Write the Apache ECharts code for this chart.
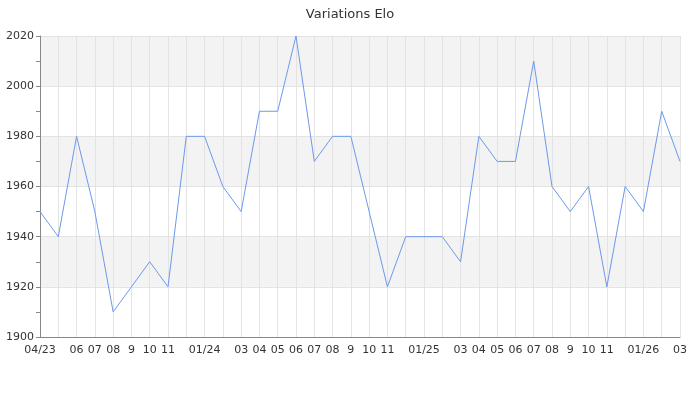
<!DOCTYPE html>
<html><head><meta charset="utf-8">
<script src="https://cdn.jsdelivr.net/npm/echarts@6/dist/echarts.min.js"></script>
<style>html,body{margin:0;padding:0;background:#fff}#c{width:700px;height:400px}</style>
</head><body><div id="c"></div>
<script>
const months = ['04/23','05','06','07','08','9','10','11','12','01/24','02','03',
  '04','05','06','07','08','9','10','11','12','01/25','02','03',
  '04','05','06','07','08','9','10','11','12','01/26','02','03'];
const hiddenLabels = [1, 8, 10, 20, 22, 32, 34];
const elo = [1950,1940,1980,1950,1910,1920,1930,1920,1980,1980,1960,1950,
  1990,1990,2020,1970,1980,1980,1950,1920,1940,1940,1940,1930,
  1980,1970,1970,2010,1960,1950,1960,1920,1960,1950,1990,1970];
const yTicks = {min:1900, max:2020, interval:20};

const chart = echarts.init(document.getElementById('c'), null, {renderer:'canvas'});
chart.setOption({
  animation:false,
  textStyle:{fontFamily:'DejaVu Sans'},
  title:{text:'Variations Elo', left:'center', top:3,
    textStyle:{fontSize:13, fontWeight:'normal', color:'#333', fontFamily:'DejaVu Sans'}},
  grid:{left:40, right:20, top:36, bottom:63, containLabel:false},
  xAxis:{type:'category', data:months, boundaryGap:false,
    axisLine:{lineStyle:{color:'#888'}},
    axisTick:{show:false},
    axisLabel:{color:'#333', fontSize:11, margin:8,
      interval:(i)=>hiddenLabels.indexOf(i)<0, hideOverlap:false},
    splitLine:{show:true, interval:0, lineStyle:{color:'#e3e3e3'}}},
  yAxis:{type:'value', min:yTicks.min, max:yTicks.max, interval:yTicks.interval,
    axisLine:{show:true, lineStyle:{color:'#888'}},
    axisTick:{show:true, length:4, lineStyle:{color:'#888'}},
    minorTick:{show:true, splitNumber:2, length:4, lineStyle:{color:'#888'}},
    axisLabel:{color:'#333', fontSize:11, margin:6, formatter:(v)=>String(v)},
    splitLine:{lineStyle:{color:'#e3e3e3'}},
    splitArea:{show:true, areaStyle:{color:['#ffffff','#f3f3f3']}}},
  series:[{type:'line', data:elo, showSymbol:false, symbol:'none',
    lineStyle:{color:'#6d98ea', width:1}, itemStyle:{color:'#6d98ea'}}]
});
</script></body></html>
